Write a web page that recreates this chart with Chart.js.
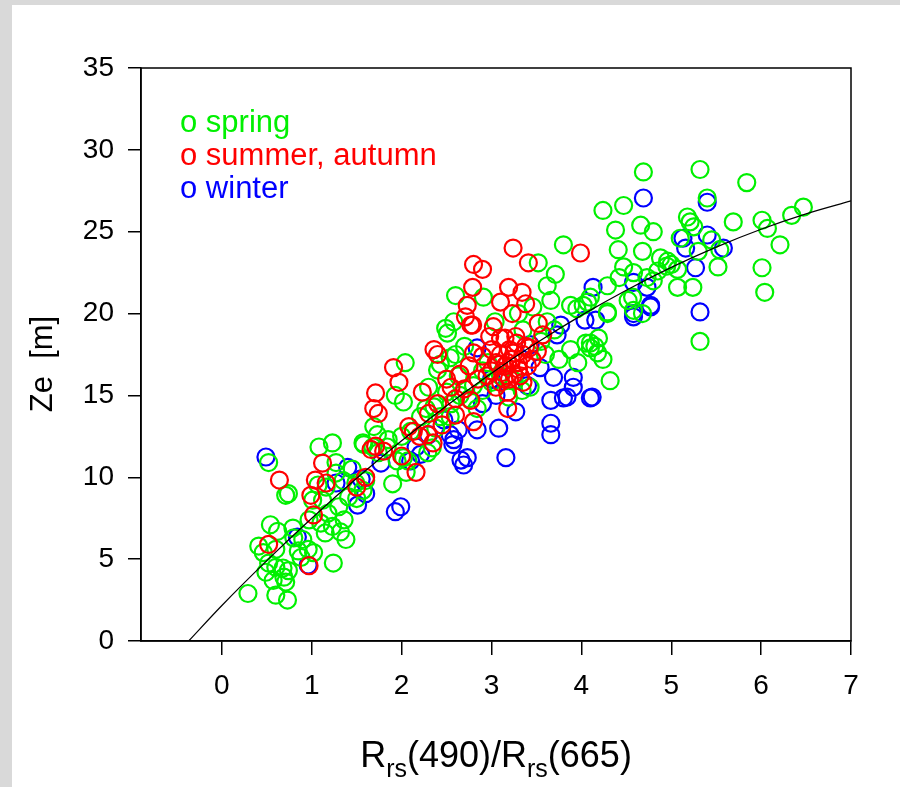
<!DOCTYPE html>
<html>
<head>
<meta charset="utf-8">
<script src="https://cdn.jsdelivr.net/npm/chart.js@4"></script>
<style>
  html, body { margin: 0; padding: 0; background: #d9d9d9; }
  #wrap { position: relative; width: 900px; height: 787px; overflow: hidden; }
  #paper { position: absolute; left: 12px; top: 5px; width: 888px; height: 782px; background: #fff; }
  #c { position: absolute; left: 0; top: 0; }
</style>
</head>
<body>
<div id="wrap">
  <div id="paper"></div>
  <canvas id="c" width="900" height="787"></canvas>
</div>
<script>
// ---- data ----
const xTicks = [0, 1, 2, 3, 4, 5, 6, 7];
const yTicks = [0, 5, 10, 15, 20, 25, 30, 35];
const legendLabels = ["o spring", "o summer, autumn", "o winter"];

const springPoints = [
  [0.29,2.9],[0.6,2.8],[0.73,2.5],[0.49,4.2],[0.57,3.7],[0.71,3.6],[0.69,3.9],[0.52,4.76],[0.6,4.5],[0.68,4.46],
  [0.74,4.3],[0.41,5.8],[0.46,5.4],[0.6,5.6],[0.54,7.1],[0.62,6.7],[0.79,6.9],[0.9,6.2],[0.96,5.6],[1.02,5.4],
  [0.88,5.1],[1.24,4.76],[0.97,7.4],[1.18,7.8],[1.3,8.2],[1.36,7.4],[1.23,7.0],[1.32,6.66],[1.38,6.2],[1.01,8.6],
  [1.12,8.6],[1.07,9.53],[1.16,9.4],[0.74,9.0],[0.71,8.9],[0.52,10.9],[1.08,11.85],[1.23,12.1],[1.57,12.1],[1.27,10.26],
  [1.49,9.65],[1.57,9.2],[1.41,8.8],[1.68,11.85],[1.45,10.5],[1.35,9.8],[1.5,8.7],[1.6,9.8],[1.27,10.9],[0.8,6.3],
  [1.1,7.2],[0.85,5.5],[1.15,6.6],
  [1.93,15.0],[2.02,14.6],[2.04,17.0],[2.27,14.2],[2.36,14.3],[2.21,13.7],[2.43,13.7],[2.49,19.1],[2.51,18.8],[2.54,17.3],
  [2.43,16.9],[2.4,16.55],[2.6,21.1],[2.91,21.0],[3.8,24.2],[3.52,23.1],[3.71,22.4],[3.62,21.7],[3.66,20.8],[3.46,20.4],
  [2.58,19.5],[3.04,19.5],[3.62,19.5],[3.88,20.5],[4.02,20.5],[4.1,21.0],[3.88,17.8],[3.96,17.0],[4.1,17.9],[4.18,17.6],
  [2.96,17.0],[3.43,15.5],[3.34,15.3],[3.19,14.9],[2.84,14.2],[2.54,13.7],[1.69,13.1],[1.73,12.6],[1.58,12.0],[1.74,11.5],
  [1.84,11.85],[2.02,11.2],[2.07,11.0],[2.29,11.5],[2.34,11.8],[2.0,12.5],[2.1,12.8],[2.3,15.5],[2.5,15.2],[2.65,15.0],
  [2.75,14.8],[2.9,15.3],[3.0,15.8],[3.7,19.0],[2.6,17.5],[2.7,18.0],[3.55,18.3],[3.35,19.0],[1.9,9.6],[2.05,10.3],
  [2.63,16.2],[2.8,15.6],[3.1,16.2],[3.6,17.5],[3.75,17.2],[3.3,20.0],[3.95,20.3],[4.05,18.2],[4.15,18.0],[2.55,14.5],
  [2.38,13.0],[1.85,12.3],[1.95,11.0],[3.25,15.9],[2.9,16.5],[4.19,18.5],[4.24,17.2],[4.32,15.9],[4.1,18.2],
  [4.69,28.65],[5.32,28.8],[5.84,28.0],[5.4,27.06],[4.24,26.3],[4.47,26.6],[4.38,25.1],[4.66,25.4],[4.8,25.0],[5.18,25.9],
  [5.21,25.6],[5.25,25.3],[5.69,25.6],[6.01,25.7],[6.07,25.2],[6.34,26.0],[6.47,26.5],[6.21,24.2],[6.01,22.8],[6.04,21.3],
  [5.54,23.9],[5.52,22.85],[5.3,23.8],[5.24,21.6],[5.32,18.3],[4.41,23.9],[4.68,23.8],[4.47,22.85],[4.88,23.4],[4.96,23.2],
  [5.07,22.7],[4.58,22.5],[4.73,22.2],[4.42,22.2],[4.29,21.7],[4.07,20.7],[4.29,20.0],[4.52,20.8],[4.58,20.2],[4.68,20.0],
  [5.07,21.6],[4.29,20.1],[4.57,21.0],[5.1,24.6],[5.45,24.5],[4.8,22.0],[4.95,22.9],[4.85,22.6],[5.0,23.0]
];

const summerAutumnPoints = [
  [0.52,5.9],[0.64,9.83],[1.02,7.7],[0.99,8.9],[1.04,9.83],[1.12,10.87],[1.16,9.65],[0.97,4.6],[1.6,10.0],[1.66,11.7],
  [1.71,11.9],[1.71,15.15],[1.69,14.2],[1.74,13.9],[1.91,16.7],[1.97,15.8],[2.08,13.1],[2.13,12.8],[2.29,12.6],[2.16,10.3],
  [2.23,15.2],[2.36,17.8],[2.4,17.5],[2.77,19.3],[2.8,23.0],[2.9,22.7],[3.24,24.0],[3.99,23.7],[3.41,23.1],[2.79,21.6],
  [2.73,20.5],[3.19,21.6],[3.34,21.3],[3.1,20.7],[3.38,20.6],[3.23,20.0],[2.71,19.8],[2.79,19.3],[3.02,19.2],[3.1,18.5],
  [3.52,19.4],[3.57,18.7],[3.51,17.7],[3.18,14.2],[2.8,13.4],[2.77,14.7],[3.0,16.5],[3.05,17.0],[3.1,17.5],[3.15,16.8],
  [3.2,17.8],[3.25,16.3],[3.3,17.0],[3.35,17.5],[3.2,16.0],[3.1,15.8],[3.0,17.8],[2.95,16.2],[3.28,18.2],[3.4,16.8],
  [3.15,18.5],[3.05,15.5],[3.35,15.8],[2.9,17.4],[3.22,17.2],[3.12,16.4],[3.3,16.6],[2.85,16.0],[3.45,17.2],[3.38,18.0],
  [2.98,18.6],[3.18,15.2],[2.7,15.4],[2.6,14.8],[2.55,15.5],[2.4,14.5],[2.5,16.0],[2.65,16.3],[2.3,13.9],[2.2,12.5],
  [2.35,12.1],[2.45,13.2],[2.6,13.8],[2.75,16.8],[2.8,17.6],[1.5,9.4],[1.8,11.6],[2.0,11.3],
  [3.25,17.6],[3.32,16.2],[3.08,16.9],[3.18,17.0],[3.27,18.6],[3.42,17.9],[3.14,16.0]
];

const winterPoints = [
  [0.49,11.24],[0.96,4.64],[0.84,6.35],[1.27,9.65],[1.51,8.3],[1.6,9.0],[1.93,7.9],[1.99,8.2],[1.4,10.6],[1.77,10.87],
  [2.21,11.4],[2.16,11.85],[2.54,12.6],[2.57,12.0],[2.66,11.05],[2.73,11.2],[2.47,13.5],[2.63,12.9],[2.58,12.3],[2.69,10.75],
  [2.84,12.9],[3.08,13.0],[3.16,11.2],[3.27,14.0],[3.66,14.7],[3.8,14.85],[3.91,15.5],[4.1,14.85],[3.66,13.3],[3.66,12.6],
  [3.69,16.1],[3.91,16.1],[3.54,16.7],[3.43,18.1],[2.84,17.9],[3.77,19.3],[3.73,18.7],[4.13,21.6],[4.16,19.6],[4.04,19.6],
  [3.84,14.9],[4.12,14.9],[4.58,21.9],[4.73,21.6],[4.58,19.8],[4.77,20.5],[4.58,20.0],[4.77,20.4],[4.69,27.06],[5.4,26.8],
  [5.13,24.6],[5.4,24.8],[5.58,24.0],[5.16,24.0],[5.27,22.8],[5.32,20.1],[2.9,14.5],[3.05,15.0],[3.4,15.6],[3.0,16.0],
  [1.55,9.9],[2.3,12.6],[2.1,11.0]
];

// fitted curve
const curveX = [-0.37, 0, 0.5, 1, 1.5, 2, 2.5, 3, 3.5, 4, 4.5, 5, 5.5, 6, 6.5, 7];
const curveY = [0, 2.17, 4.91, 7.5, 9.94, 12.23, 14.37, 16.36, 18.2, 19.89, 21.43, 22.82, 24.06, 25.15, 26.09, 26.88];

const colors = { spring: "#00f000", summer: "#ff0000", winter: "#0000ff" };
const FONT = "'Liberation Sans', Arial, Helvetica, sans-serif";

const toXY = a => a.map(p => ({ x: p[0], y: p[1] }));

const chromePlugin = {
  id: "chrome",
  afterDraw(chart) {
    const { ctx, chartArea: a } = chart;
    ctx.save();
    ctx.strokeStyle = "#000";
    ctx.lineWidth = 1.5;
    ctx.strokeRect(a.left, a.top, a.right - a.left, a.bottom - a.top);

    // legend text
    ctx.font = "31px " + FONT;
    ctx.textBaseline = "alphabetic";
    ctx.textAlign = "left";
    const lc = [colors.spring, colors.summer, colors.winter];
    legendLabels.forEach((t, i) => {
      ctx.fillStyle = lc[i];
      ctx.fillText(t, 180, 132 + i * 33);
    });

    // y title
    ctx.fillStyle = "#000";
    ctx.save();
    ctx.translate(52, 364);
    ctx.rotate(-Math.PI / 2);
    ctx.textAlign = "center";
    ctx.font = "31px " + FONT;
    ctx.fillText("Ze  [m]", 0, 0);
    ctx.restore();

    // x title with subscripts
    const parts = [["R", 0], ["rs", 1], ["(490)/R", 0], ["rs", 1], ["(665)", 0]];
    const big = "36px " + FONT, small = "25px " + FONT;
    let total = 0;
    parts.forEach(p => { ctx.font = p[1] ? small : big; total += ctx.measureText(p[0]).width; });
    let x = 496 - total / 2;
    const base = 767;
    parts.forEach(p => {
      ctx.font = p[1] ? small : big;
      ctx.fillText(p[0], x, p[1] ? base + 10 : base);
      x += ctx.measureText(p[0]).width;
    });
    ctx.restore();
  }
};

const pointStyle = c => ({
  pointRadius: 8.5, pointBorderWidth: 2.2, borderColor: c, backgroundColor: "transparent",
  pointBackgroundColor: "transparent", pointBorderColor: c
});

new Chart(document.getElementById("c"), {
  type: "scatter",
  data: {
    datasets: [
      Object.assign({ label: "summer, autumn", data: toXY(summerAutumnPoints), order: 1 }, pointStyle(colors.summer)),
      Object.assign({ label: "spring", data: toXY(springPoints), order: 2 }, pointStyle(colors.spring)),
      Object.assign({ label: "winter", data: toXY(winterPoints), order: 3 }, pointStyle(colors.winter)),
      {
        type: "line", label: "fit", order: 0,
        data: curveX.map((v, i) => ({ x: v, y: curveY[i] })),
        borderColor: "#000", borderWidth: 1.2, pointRadius: 0, showLine: true, fill: false,
        cubicInterpolationMode: "monotone"
      }
    ]
  },
  options: {
    responsive: false,
    animation: false,
    devicePixelRatio: 1,
    layout: { padding: { left: 0, top: 68, right: 49, bottom: 0 } },
    plugins: { legend: { display: false }, tooltip: { enabled: false } },
    scales: {
      x: {
        type: "linear", min: -0.9, max: 7,
        afterBuildTicks: s => { s.ticks = xTicks.map(v => ({ value: v })); },
        afterFit: s => { s.height = 146; },
        grid: { drawOnChartArea: false, drawTicks: true, tickLength: 14, color: "#000", lineWidth: 1.5 },
        border: { display: true, color: "#000", width: 1.5 },
        ticks: { color: "#000", font: { family: FONT, size: 28 }, padding: 14, maxRotation: 0 }
      },
      y: {
        type: "linear", min: 0, max: 35,
        afterBuildTicks: s => { s.ticks = yTicks.map(v => ({ value: v })); },
        afterFit: s => { s.width = 141; },
        grid: { drawOnChartArea: false, drawTicks: true, tickLength: 13, color: "#000", lineWidth: 1.5 },
        border: { display: true, color: "#000", width: 1.5 },
        ticks: { color: "#000", font: { family: FONT, size: 28 }, padding: 14 }
      }
    }
  },
  plugins: [chromePlugin]
});
</script>
</body>
</html>
